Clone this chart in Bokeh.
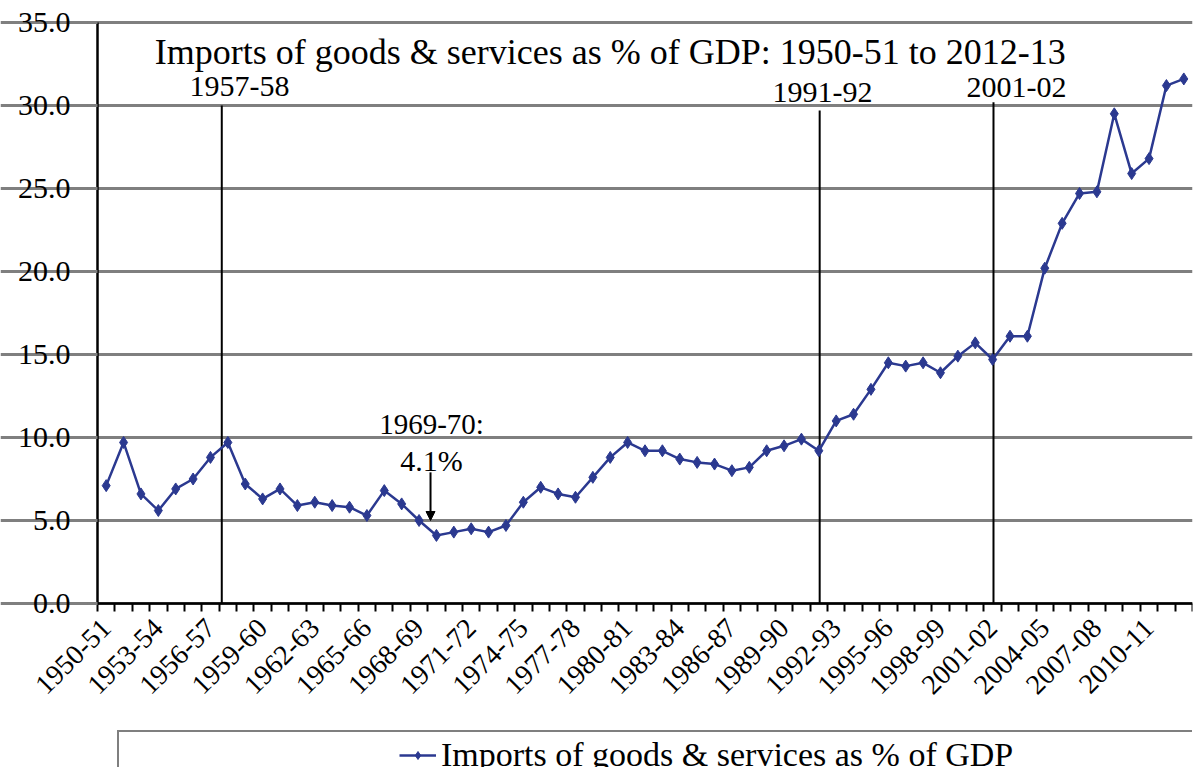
from bokeh.plotting import figure
from bokeh.models import (Range1d, FixedTicker, Label, Arrow, NormalHead,
                          Legend, LegendItem, ColumnDataSource, PrintfTickFormatter)
from bokeh.embed import file_html
from bokeh.resources import INLINE

# ---------------- data ----------------
years = [f"{y}-{(y + 1) % 100:02d}" for y in range(1950, 2013)]
imports_pct = [7.1, 9.7, 6.6, 5.6, 6.9, 7.5, 8.8, 9.7, 7.2, 6.3,
               6.9, 5.9, 6.1, 5.9, 5.8, 5.3, 6.8, 6.0, 5.0, 4.1,
               4.3, 4.5, 4.3, 4.7, 6.1, 7.0, 6.6, 6.4, 7.6, 8.8,
               9.7, 9.2, 9.2, 8.7, 8.5, 8.4, 8.0, 8.2, 9.2, 9.5,
               9.9, 9.2, 11.0, 11.4, 12.9, 14.5, 14.3, 14.5, 13.9, 14.9,
               15.7, 14.7, 16.1, 16.1, 20.2, 22.9, 24.7, 24.8, 29.5, 25.9,
               26.8, 31.2, 31.6]
y_ticks = [0, 5, 10, 15, 20, 25, 30, 35]
label_every = 3
last_label = "2010-11"
marker_years = ["1957-58", "1991-92", "2001-02"]
marker_tops = [30.0, 29.7, 30.2]
low_year = "1969-70"
low_value = 4.1
series_name = "Imports of goods & services as % of GDP"
title_text = "Imports of goods & services as % of GDP: 1950-51 to 2012-13"

FONT = "Liberation Serif"
BLUE = "#2B3990"
GRID = "#7f7f7f"

n = len(years)
xs = list(range(n))
x0, x1 = -0.5, n - 0.5
y_top = y_ticks[-1]
src = ColumnDataSource(dict(x=xs, y=imports_pct, year=years))

# The frame covers the whole page; both axes are pinned inside it so that the
# rotated tick labels and the cut-off legend box below the axis can be shown.
p = figure(width=1194, height=767, output_backend="svg", toolbar_location=None,
           x_range=Range1d(-6.081, x1), y_range=Range1d(-9.88, 36.325),
           min_border_left=0, min_border_right=2, min_border_top=0, min_border_bottom=0)
p.outline_line_color = None
p.background_fill_color = "white"

# grid
p.xgrid.grid_line_color = None
p.ygrid.grid_line_color = GRID
p.ygrid.grid_line_width = 3
p.ygrid.ticker = FixedTicker(ticks=y_ticks)
p.ygrid.bounds = (x0, x1)

# y axis (pinned at the left edge of the categories)
p.yaxis.fixed_location = x0
p.yaxis.ticker = FixedTicker(ticks=y_ticks)
p.yaxis.bounds = (0, y_top)
p.yaxis.formatter = PrintfTickFormatter(format="%.1f")
p.yaxis.axis_line_color = "black"
p.yaxis.axis_line_width = 2.5
p.yaxis.major_tick_line_color = GRID
p.yaxis.major_tick_line_width = 3
p.yaxis.major_tick_out = 10
p.yaxis.major_tick_in = 0
p.yaxis.minor_tick_line_color = None
p.yaxis.major_label_text_font = FONT
p.yaxis.major_label_text_font_size = "30px"
p.yaxis.major_label_text_color = "black"
p.yaxis.major_label_standoff = 17

# x axis (pinned at y = 0)
label_idx = [i for i in xs[::label_every] if i <= years.index(last_label)]
p.xaxis.fixed_location = 0
p.xaxis.bounds = (x0, x1)
p.xaxis.ticker = FixedTicker(ticks=label_idx, minor_ticks=[i - 0.5 for i in range(n + 1)])
p.xaxis.major_label_overrides = {i: years[i] for i in label_idx}
p.xaxis.major_label_orientation = 0.785398
p.xaxis.axis_line_color = "black"
p.xaxis.axis_line_width = 2.5
p.xaxis.major_tick_line_color = None
p.xaxis.major_tick_out = 8
p.xaxis.minor_tick_line_color = "black"
p.xaxis.minor_tick_line_width = 2
p.xaxis.minor_tick_out = 8
p.xaxis.minor_tick_in = 0
p.xaxis.major_label_text_font = FONT
p.xaxis.major_label_text_font_size = "28px"
p.xaxis.major_label_text_color = "black"
p.xaxis.major_label_standoff = 12

# vertical reference lines
mx = [years.index(y) for y in marker_years]
mx_adj = [mx[0] - 0.35, mx[1] + 0.05, mx[2] + 0.05]
p.segment(x0=mx_adj, y0=[0] * 3, x1=mx_adj, y1=marker_tops, line_color="black", line_width=2)

# series
line_r = p.line("x", "y", source=src, line_color=BLUE, line_width=2.5)
pts_r = p.scatter("x", "y", source=src, marker="diamond", size=12, fill_color=BLUE, line_color=BLUE)

# texts
p.add_layout(Label(x=29.0, y=33.25, text=title_text, text_font=FONT, text_font_size="36px",
                   text_align="center", text_baseline="alphabetic", text_color="black"))
offs = [0.67, 0.21, 1.38]
bases = [31.12, 30.76, 31.06]
for yr, o, b in zip(marker_years, offs, bases):
    p.add_layout(Label(x=years.index(yr) + o, y=b, text=yr, text_font=FONT, text_font_size="30px",
                       text_align="center", text_baseline="alphabetic", text_color="black"))
li = years.index(low_year)
p.add_layout(Label(x=li - 0.28, y=10.8, text=f"{low_year}:", text_font=FONT, text_font_size="29px",
                   text_align="center", text_baseline="alphabetic", text_color="black"))
p.add_layout(Label(x=li - 0.28, y=8.6, text=f"{low_value}%", text_font=FONT, text_font_size="30px",
                   text_align="center", text_baseline="alphabetic", text_color="black"))
p.add_layout(Arrow(x_start=li - 0.34, y_start=7.9, x_end=li - 0.34, y_end=low_value + 0.9,
                   line_color="black", line_width=2,
                   end=NormalHead(size=9, fill_color="black", line_color="black")))

# legend: wide framed box (spacer items left and right), cut off by the frame edges
pad_l = p.line([], [], line_alpha=0)
pad_r = p.line([], [], line_alpha=0)
legend = Legend(items=[LegendItem(label=" ", renderers=[pad_l]),
                       LegendItem(label=series_name, renderers=[line_r, pts_r]),
                       LegendItem(label=" ", renderers=[pad_r])],
                orientation="horizontal", location=(117, -13), margin=0, padding=3, spacing=0,
                border_line_color="black", border_line_width=2, background_fill_color="white",
                glyph_width=37, glyph_height=20, label_width=235, label_height=40, label_standoff=5,
                label_text_font=FONT, label_text_font_size="34px", label_text_color="black")
p.add_layout(legend, "center")

open("out.html", "w").write(file_html(p, INLINE))
